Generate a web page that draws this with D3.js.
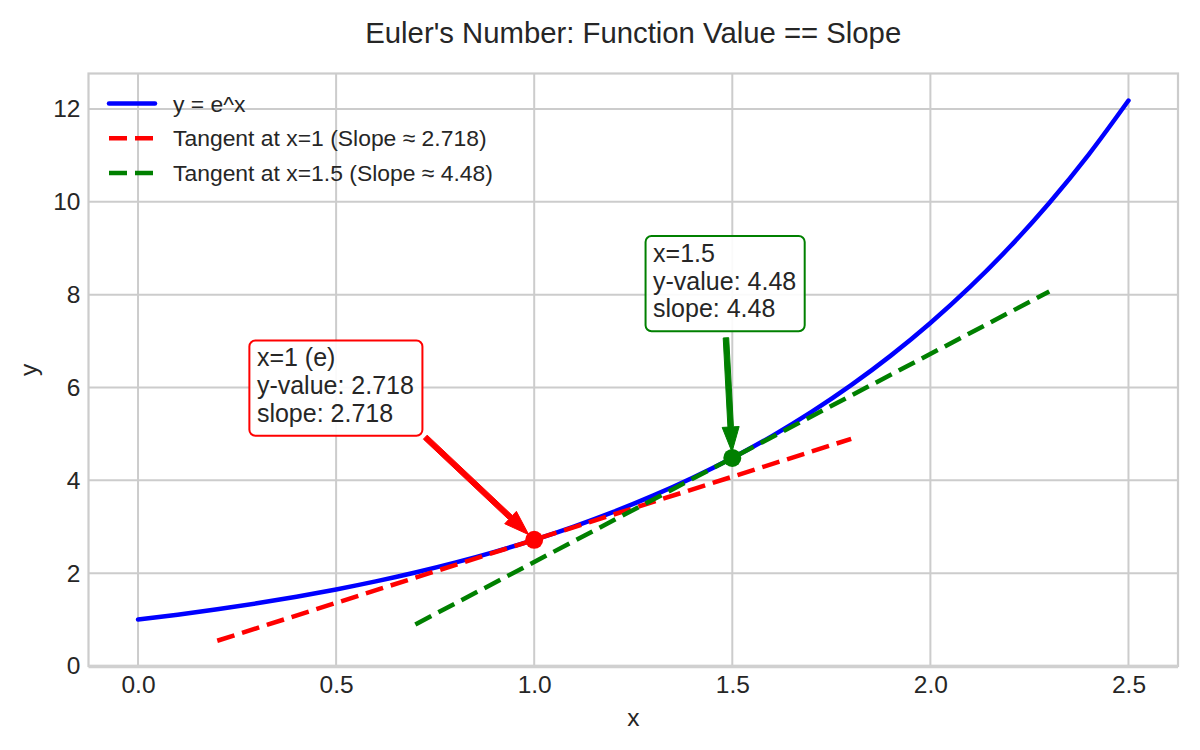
<!DOCTYPE html>
<html lang="en">
<head>
  <meta charset="UTF-8">
  <title>Euler's Number</title>
  <style>
    body { margin: 0; background: #fff; }
    text { font-family: "Liberation Sans", Arial, sans-serif; fill: #262626; }
  </style>
</head>
<body>
  <script src="https://cdn.jsdelivr.net/npm/d3@7/dist/d3.min.js"></script>
  <script>
// data
const curveX = [0, 0.1, 0.2, 0.3, 0.4, 0.5, 0.6, 0.7, 0.8, 0.9, 1.0, 1.1, 1.2, 1.3, 1.4, 1.5, 1.6, 1.7, 1.8, 1.9, 2.0, 2.1, 2.2, 2.3, 2.4, 2.5];
const curveY = [1.000, 1.105, 1.221, 1.350, 1.492, 1.649, 1.822, 2.014, 2.226, 2.460, 2.718, 3.004, 3.320, 3.669, 4.055, 4.482, 4.953, 5.474, 6.050, 6.686, 7.389, 8.166, 9.025, 9.974, 11.023, 12.182];
const tangent1X = [0.2, 1.8];
const tangent1Y = [0.544, 4.893];
const tangent2X = [0.7, 2.3];
const tangent2Y = [0.896, 8.067];
const pointsX = [1.0, 1.5];
const pointsY = [2.718, 4.482];
const xTicks = [0.0, 0.5, 1.0, 1.5, 2.0, 2.5];
const yTicks = [0, 2, 4, 6, 8, 10, 12];
const legendLabels = ['y = e^x', 'Tangent at x=1 (Slope \u2248 2.718)', 'Tangent at x=1.5 (Slope \u2248 4.48)'];
const noteLines = [
  ['x=1 (e)', 'y-value: 2.718', 'slope: 2.718'],
  ['x=1.5', 'y-value: 4.48', 'slope: 4.48']
];
const noteX = [0.3, 1.3];    // left edge of text, data units
const noteY = [6.0, 8.25];   // middle of text block, data units
const arrowFromX = [0.725, 1.484];
const arrowFromY = [4.93, 7.07];

const width = 1200;
const height = 750;
const colors = ['blue', 'red', 'green'];

const svg = d3.select('body').append('svg')
  .attr('width', width)
  .attr('height', height);

// plot area
const pLeft = 88.5, pRight = 1178, pTop = 73.5, pBottom = 666;

const x = d3.scaleLinear().domain([-0.125, 2.625]).range([pLeft, pRight]);
const y = d3.scaleLinear().domain([0, 12.764]).range([pBottom, pTop]);

// grid
svg.append('g').selectAll('line')
  .data(xTicks)
  .join('line')
  .attr('x1', d => x(d)).attr('x2', d => x(d))
  .attr('y1', pTop).attr('y2', pBottom)
  .attr('stroke', '#cccccc').attr('stroke-width', 2);

svg.append('g').selectAll('line')
  .data(yTicks)
  .join('line')
  .attr('x1', pLeft).attr('x2', pRight)
  .attr('y1', d => y(d)).attr('y2', d => y(d))
  .attr('stroke', '#cccccc').attr('stroke-width', 2);

// frame
svg.append('rect')
  .attr('x', pLeft).attr('y', pTop)
  .attr('width', pRight - pLeft).attr('height', pBottom - pTop)
  .attr('fill', 'none').attr('stroke', '#cccccc').attr('stroke-width', 2.2);
svg.append('line')
  .attr('x1', pLeft).attr('x2', pRight)
  .attr('y1', pBottom + 0.5).attr('y2', pBottom + 0.5)
  .attr('stroke', '#d0d0d0').attr('stroke-width', 3.5);

// axes (labels only, seaborn whitegrid look)
const xAxis = svg.append('g')
  .attr('transform', `translate(0, ${pBottom})`)
  .call(d3.axisBottom(x).tickValues(xTicks).tickFormat(d3.format('.1f')).tickSize(0).tickPadding(10));
const yAxis = svg.append('g')
  .attr('transform', `translate(${pLeft}, 0)`)
  .call(d3.axisLeft(y).tickValues(yTicks).tickFormat(d3.format('d')).tickSize(0).tickPadding(8));
[xAxis, yAxis].forEach(a => {
  a.select('.domain').remove();
  a.selectAll('text')
    .attr('font-size', 24.5)
    .attr('font-family', '"Liberation Sans", Arial, sans-serif')
    .attr('fill', '#262626');
});

// axis labels and title
svg.append('text')
  .attr('x', (pLeft + pRight) / 2).attr('y', 726)
  .attr('text-anchor', 'middle').attr('font-size', 24.5)
  .text('x');
svg.append('text')
  .attr('transform', `translate(37, ${(pTop + pBottom) / 2}) rotate(-90)`)
  .attr('text-anchor', 'middle').attr('font-size', 24.5)
  .text('y');
svg.append('text')
  .attr('x', (pLeft + pRight) / 2).attr('y', 42.5)
  .attr('text-anchor', 'middle').attr('font-size', 29.3)
  .text("Euler's Number: Function Value == Slope");

// e^x
const smooth = d3.line().x(d => x(d[0])).y(d => y(d[1])).curve(d3.curveMonotoneX);
svg.append('path')
  .datum(d3.zip(curveX, curveY))
  .attr('d', smooth)
  .attr('fill', 'none')
  .attr('stroke', 'blue')
  .attr('stroke-width', 4.5)
  .attr('stroke-linecap', 'round');

// tangents
const straight = d3.line().x(d => x(d[0])).y(d => y(d[1]));
[[tangent1X, tangent1Y, 'red'], [tangent2X, tangent2Y, 'green']].forEach(t => {
  svg.append('path')
    .datum(d3.zip(t[0], t[1]))
    .attr('d', straight)
    .attr('fill', 'none')
    .attr('stroke', t[2])
    .attr('stroke-width', 4.5)
    .attr('stroke-dasharray', '18,8');
});

// points
svg.append('g').selectAll('circle')
  .data(d3.zip(pointsX, pointsY))
  .join('circle')
  .attr('cx', d => x(d[0]))
  .attr('cy', d => y(d[1]))
  .attr('r', 9)
  .attr('fill', (d, i) => colors[i + 1]);

// annotations: box + arrow
const fs = 25, lineGap = 27.6;
noteLines.forEach((lines, i) => {
  const col = colors[i + 1];
  const g = svg.append('g');
  const tx = x(noteX[i]);
  const firstBase = y(noteY[i]) - 21;
  const box = g.append('rect');
  const txt = g.append('text')
    .attr('font-size', fs)
    .attr('fill', '#262626');
  lines.forEach((s, k) => {
    txt.append('tspan')
      .attr('x', tx)
      .attr('y', firstBase + k * lineGap)
      .text(s);
  });
  const bb = txt.node().getBBox();
  const pad = 7.5;
  box.attr('x', tx - pad)
    .attr('y', firstBase - 0.74 * fs - pad)
    .attr('width', bb.width + 2 * pad + 1)
    .attr('height', 2 * lineGap + fs + 2 * pad)
    .attr('rx', 6)
    .attr('fill', 'white')
    .attr('fill-opacity', 0.9)
    .attr('stroke', col)
    .attr('stroke-width', 2);

  // arrow from text to point, tip shrunk 5% of length
  const x0 = x(arrowFromX[i]), y0 = y(arrowFromY[i]);
  const px = x(pointsX[i]), py = y(pointsY[i]);
  const len = Math.hypot(px - x0, py - y0);
  const ux = (px - x0) / len, uy = (py - y0) / len;
  const tipX = px - ux * len * 0.05, tipY = py - uy * len * 0.05;
  const headLen = 25, headW = 17, shaftW = 5.5;
  const bx = tipX - ux * headLen, by = tipY - uy * headLen;
  const nx = -uy, ny = ux;
  const pts = [
    [x0 + nx * shaftW / 2, y0 + ny * shaftW / 2],
    [bx + nx * shaftW / 2, by + ny * shaftW / 2],
    [bx + nx * headW / 2, by + ny * headW / 2],
    [tipX, tipY],
    [bx - nx * headW / 2, by - ny * headW / 2],
    [bx - nx * shaftW / 2, by - ny * shaftW / 2],
    [x0 - nx * shaftW / 2, y0 - ny * shaftW / 2]
  ];
  svg.append('path')
    .attr('d', 'M' + pts.map(p => p.join(',')).join('L') + 'Z')
    .attr('fill', col)
    .attr('stroke', col)
    .attr('stroke-width', 1);
});

// legend
const legend = svg.append('g');
legendLabels.forEach((s, i) => {
  const ly = 103.5 + i * 34.7;
  legend.append('line')
    .attr('x1', 109).attr('x2', 155)
    .attr('y1', ly).attr('y2', ly)
    .attr('stroke', colors[i])
    .attr('stroke-width', 4.5)
    .attr('stroke-linecap', i === 0 ? 'round' : 'butt')
    .attr('stroke-dasharray', i === 0 ? null : '18,8');
  legend.append('text')
    .attr('x', 173).attr('y', ly + 8)
    .attr('font-size', 22.9)
    .text(s);
});
  </script>
</body>
</html>
